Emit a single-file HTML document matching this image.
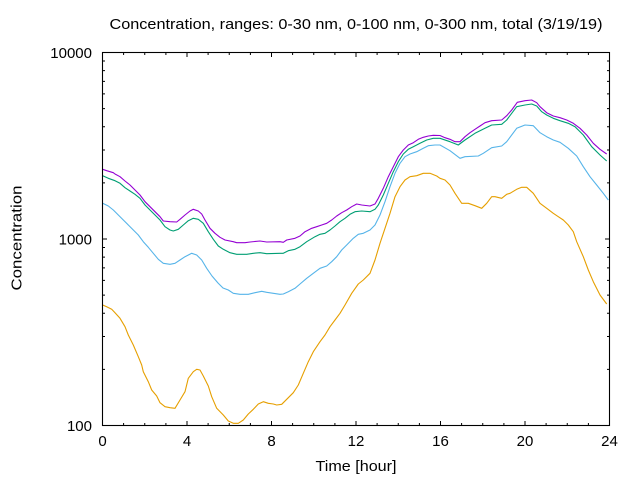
<!DOCTYPE html>
<html>
<head>
<meta charset="utf-8">
<style>
  html, body { margin: 0; padding: 0; background: #ffffff; }
  svg { display: block; }
  text { font-family: "Liberation Sans", "DejaVu Sans", sans-serif; fill: #000; }
</style>
</head>
<body>
<svg width="640" height="480" viewBox="0 0 640 480" xmlns="http://www.w3.org/2000/svg">
  <rect x="0" y="0" width="640" height="480" fill="#ffffff"/>

  <!-- Title -->
  <text x="356" y="29" font-size="15" text-anchor="middle" textLength="493" lengthAdjust="spacingAndGlyphs">Concentration, ranges: 0-30 nm, 0-100 nm, 0-300 nm, total (3/19/19)</text>

  <!-- Y axis label -->
  <text transform="translate(21.5,238) rotate(-90)" x="0" y="0" font-size="15" text-anchor="middle" textLength="105" lengthAdjust="spacingAndGlyphs">Concentration</text>

  <!-- X axis label -->
  <text x="356" y="471" font-size="15" text-anchor="middle" textLength="81" lengthAdjust="spacingAndGlyphs">Time [hour]</text>

  <!-- Y tick labels -->
  <g font-size="15" text-anchor="end">
    <text x="92" y="57.8">10000</text>
    <text x="92" y="244.3">1000</text>
    <text x="92" y="430.8">100</text>
  </g>

  <!-- X tick labels -->
  <g font-size="15" text-anchor="middle">
    <text x="102.5" y="446">0</text>
    <text x="187" y="446">4</text>
    <text x="271.5" y="446">8</text>
    <text x="356" y="446">12</text>
    <text x="440.5" y="446">16</text>
    <text x="525" y="446">20</text>
    <text x="609.5" y="446">24</text>
  </g>

  <!-- Ticks -->
  <g stroke="#000" stroke-width="1" fill="none">
    <!-- X major ticks bottom & top -->
    <path d="M102.5,425.5v-4.5 M187,425.5v-4.5 M271.5,425.5v-4.5 M356,425.5v-4.5 M440.5,425.5v-4.5 M525,425.5v-4.5 M609.5,425.5v-4.5
             M102.5,52.5v4.5 M187,52.5v4.5 M271.5,52.5v4.5 M356,52.5v4.5 M440.5,52.5v4.5 M525,52.5v4.5 M609.5,52.5v4.5"/>
    <!-- X minor ticks -->
    <path d="M123.6,425.5v-2.5 M144.75,425.5v-2.5 M165.9,425.5v-2.5 M208.1,425.5v-2.5 M229.25,425.5v-2.5 M250.4,425.5v-2.5
             M292.6,425.5v-2.5 M313.75,425.5v-2.5 M334.9,425.5v-2.5 M377.1,425.5v-2.5 M398.25,425.5v-2.5 M419.4,425.5v-2.5
             M461.6,425.5v-2.5 M482.75,425.5v-2.5 M503.9,425.5v-2.5 M546.1,425.5v-2.5 M567.25,425.5v-2.5 M588.4,425.5v-2.5
             M123.6,52.5v2.5 M144.75,52.5v2.5 M165.9,52.5v2.5 M208.1,52.5v2.5 M229.25,52.5v2.5 M250.4,52.5v2.5
             M292.6,52.5v2.5 M313.75,52.5v2.5 M334.9,52.5v2.5 M377.1,52.5v2.5 M398.25,52.5v2.5 M419.4,52.5v2.5
             M461.6,52.5v2.5 M482.75,52.5v2.5 M503.9,52.5v2.5 M546.1,52.5v2.5 M567.25,52.5v2.5 M588.4,52.5v2.5"/>
    <!-- Y major ticks left & right -->
    <path d="M102.5,239h4.5 M609.5,239h-4.5"/>
    <!-- Y minor ticks (decade 100-1000) -->
    <path d="M102.5,369.4h2.5 M102.5,336.5h2.5 M102.5,313.2h2.5 M102.5,295.1h2.5 M102.5,280.4h2.5 M102.5,267.9h2.5 M102.5,257.1h2.5 M102.5,247.5h2.5
             M609.5,369.4h-2.5 M609.5,336.5h-2.5 M609.5,313.2h-2.5 M609.5,295.1h-2.5 M609.5,280.4h-2.5 M609.5,267.9h-2.5 M609.5,257.1h-2.5 M609.5,247.5h-2.5"/>
    <!-- Y minor ticks (decade 1000-10000) -->
    <path d="M102.5,182.9h2.5 M102.5,150h2.5 M102.5,126.7h2.5 M102.5,108.6h2.5 M102.5,93.9h2.5 M102.5,81.4h2.5 M102.5,70.6h2.5 M102.5,61h2.5
             M609.5,182.9h-2.5 M609.5,150h-2.5 M609.5,126.7h-2.5 M609.5,108.6h-2.5 M609.5,93.9h-2.5 M609.5,81.4h-2.5 M609.5,70.6h-2.5 M609.5,61h-2.5"/>
  </g>

  <!-- Data series -->
  <g fill="none" stroke-width="1.1" stroke-linejoin="round">
    <!-- total (purple) -->
    <polyline stroke="#9400d3" points="102.7,169.3 106.7,170.7 113.3,172.7 115,174 120,176.7 125,181 130,185 135,190 140,195 145,201.7 150,206.7 155,211.7 160,216.7 163.3,221 170,221.7 176.7,222 180,219.3 185,215 190,211 193.3,209.3 198.3,211 201.7,214 205,220 210,228.3 215,233.3 220,237.3 225,240 233.3,241.7 236.7,242.7 245,242.7 250,242 260,241 266.7,242 280,241.7 283.3,242.3 286.7,240 295,238.3 300,236 305,231.7 311.7,228.3 316.7,226.7 321.7,225 326.7,223.3 331.7,220 336.7,216 341.7,212.7 346.7,210 351.7,206.7 356.7,204 361.7,205 370,206 375,204 378.3,198.3 383.3,188.3 388.3,176.7 393.3,166.7 398.3,156.7 403.3,150 408.3,145 413.3,142.7 418.3,139.3 423.3,137.3 428.3,136 433.3,135.3 440,135.5 445,137.7 450,139.3 455,141.7 460,141.7 465,136.7 470,132.7 475,129.3 480,126 485,122.7 491.7,120.7 501.7,120 506.7,115.7 511.7,110 517.3,102.3 525,100.7 531.7,100 536.7,102.7 540,106.7 546.7,112.7 553.3,116 560,117.7 566.7,120 573.3,123.3 580,128.3 586.7,135 593.3,143.3 600,149.3 606.7,154"/>
    <!-- 0-300 nm (green) -->
    <polyline stroke="#009e73" points="102.7,175.7 108.3,178.3 115,180.7 120,183.3 125,187.7 130,191 135,194.3 140,198.3 145,205 150,210 155,215 160,220 165,226.7 170,230 173.3,231 178.3,229.3 183.3,225 188.3,220.7 193.3,218.3 198.3,219.3 203.3,223.3 208.3,231.7 213.3,239.3 218.3,246 223.3,249.3 230,252.7 236.7,254.3 246.7,254.3 253.3,253.3 260,252.7 266.7,253.7 280,253.3 283.3,253.3 288.3,250.7 295,249.3 300,246.7 306.7,241.7 315,236.7 320,234.3 325,233.3 330,230 335,226 340,221.7 345,218.3 350,214.3 355,211.7 361.7,211 370,211.7 375,209.3 378.3,205 383.3,195 388.3,183.3 393.3,171.7 398.3,161.7 403.3,154 408.3,149.3 413.3,146.7 420,143.3 426.7,140 433.3,138.3 440,138.3 450,141.7 458.3,145 465,140 475,133.3 485,128.3 491.7,125 501.7,124.3 506.7,120 516.7,106.7 525,105 531.7,104 536.7,106 541.7,111.7 546.7,115 553.3,118.3 560,120.7 568.3,123.3 575,126.7 583.3,135 591.7,146.7 600,155 606.7,161"/>
    <!-- 0-100 nm (blue) -->
    <polyline stroke="#56b4e9" points="102.7,203.3 108.3,206 113.3,210 118.3,215 123.3,220 128.3,225 133.3,230 138.3,235 143.3,241.7 148.3,247.3 153.3,253.3 158.3,259.3 163.3,263.3 170,264.3 175,263.3 180,260 185,256.7 191.7,253.3 196.7,255 201.7,260 206.7,268.3 212,276 218,283 223,288 228.3,290 233.3,293.3 240,294.3 248.3,294.3 255,292.7 261.7,291.3 266.7,292.3 273.3,293.3 280,294.3 283.3,294 288.3,291.7 295,288.3 300,284 306.7,278.3 313.3,273.3 320,268.3 326.7,266 331.7,261.7 336.7,256.7 341.7,250 346.7,245 353.3,238.3 358.3,234.3 363.3,233.3 370,230 375,225 380,215 385,201.7 390,186.7 395,173.3 400,163.3 405,156.7 410,154 416.7,151.7 423.3,148.3 428.3,145.7 435,145 440,145 450,150.7 460,158.3 465,156.7 478.3,156 483.3,153.3 491.7,147.7 501.7,146 506.7,141.7 516.7,128.3 525,125 533.3,125.7 540,132.7 546.7,136.7 553.3,140 560,142.3 568.3,148.3 576.7,156 583.3,166.7 590,176.7 596.7,185 603.3,193.3 608.3,200"/>
    <!-- 0-30 nm (orange) -->
    <polyline stroke="#e69f00" points="102.7,305 106.7,306.7 111.7,309.3 115,312.7 120,318.3 125,326.7 128.3,335 133.3,345 138.3,356.7 141.7,365 143.3,371.7 148.3,381.7 151.7,390 156.7,396 160,402.7 165,406.7 170,407.7 175,408.3 180,400 185,391.7 188.3,378.3 193.3,371.7 196.7,369.3 200,370 203.3,376 208.3,386 211.7,396.7 216.7,408.3 223.3,415 228.3,421 233.3,423.3 238.3,423.3 243.3,420 248.3,414 253.3,409.3 258.3,404 263.3,401.7 268.3,403.3 273.3,404 276.7,405 281.7,404.3 286.7,399.3 293.3,392.7 298.3,385 303.3,373.3 308.3,361.7 313.3,351.7 320,341.7 325,335 330,326.7 335,320 340,313.3 345,305 351.7,293.3 358.3,284 363.3,280 370,273.3 375,260 380,243.3 385,228.3 390,213.3 395,196.7 400,186.7 405,180 410,176.7 416.7,175.7 423.3,173.3 430,173.3 436.7,176 440,178.3 445,180 450,185 455,193.3 461.7,203.3 468.3,203.3 475,205.7 481.7,208.3 486.7,203.3 491.7,196.7 495,196.7 501.7,198.3 506.7,194.3 510,193.3 516.7,189.3 521.7,187.3 526.7,187.3 533.3,193.3 540,203.3 546.7,208.3 553.3,213.3 558.3,216.7 563.3,220 568.3,225 573.3,231.7 576.7,241.7 583.3,256.7 588.3,270 593.3,281.7 600,295 606.7,304"/>
  </g>

  <!-- Border -->
  <rect x="102.5" y="52.5" width="507" height="373" fill="none" stroke="#000" stroke-width="1.1"/>
</svg>
</body>
</html>
